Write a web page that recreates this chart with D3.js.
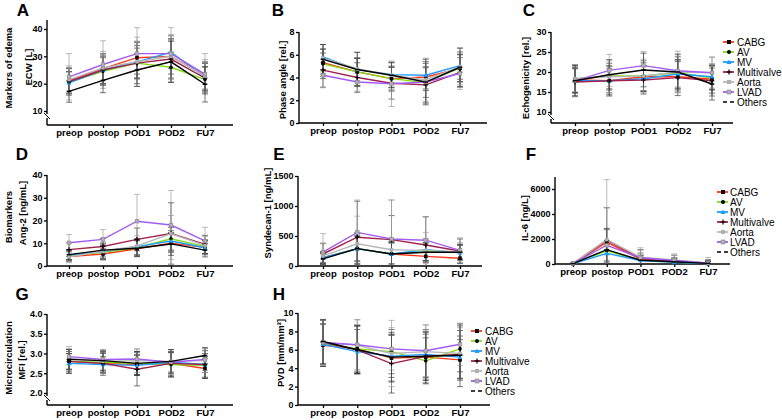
<!DOCTYPE html>
<html><head><meta charset="utf-8">
<script src="https://cdn.jsdelivr.net/npm/d3@7"></script>
<style>
body{margin:0;background:#fff}
svg{display:block;font-family:"Liberation Sans",Arial,Helvetica,sans-serif}
</style>
</head><body>
<svg id="chart" width="782" height="420"></svg>
<script>
// ---------- DATA ----------
const categories = ["preop", "postop", "POD1", "POD2", "FU7"];
const groups = ["CABG", "AV", "MV", "Multivalve", "Aorta", "LVAD", "Others"];
const groupColors = ["#ff3516", "#7fdc12", "#1f9cff", "#a2214c", "#b8b8b8", "#a35bf5", "#000000"];
const groupMarkers = ["square", "circle", "triangle", "plus", "square", "square", "dash"];
const markerFills = ["#000000", "#000000", "#1f9cff", "#000000", "#b0b0b0", "#b0b0b0", "#000000"];

// A: ECW [L]
const ecwMean = [[21,25.5,29.5,30,23],[20.5,24.5,27.5,26,21.5],[20.3,25,28,31.5,22.5],[20.8,25,27.5,29,22],[21.5,25.8,28,30,22.8],[22.5,27,31,31,23.5],[17.2,21.2,25,28,19.8]];
const ecwSD   = [[4.5,5.5,6,6.5,5],[4,5,5.5,5.5,4.5],[4,5,6,6,5],[5,5.5,7.5,7,5.5],[5,6,9,8,6],[8.5,8.7,9.5,9.5,7.5],[4,4.5,6,7.5,6.5]];
const ecwTicks = [10, 20, 30, 40];
// B: Phase angle
const phaseMean = [[5.3,4.5,3.9,4.05,4.8],[5.2,4.5,3.9,3.55,4.85],[5.8,4.7,4.25,4.2,5.05],[4.65,4.0,3.5,3.35,4.45],[5.7,4.75,4.2,3.8,4.95],[4.2,3.6,3.45,3.6,4.35],[5.6,4.7,4.2,3.6,4.9]];
const phaseSD   = [[1.2,1.2,1.1,1.2,1.2],[1.3,1.2,1.0,1.3,1.2],[1.1,1.0,1.1,1.2,1.2],[1.5,1.3,1.4,1.6,1.3],[1.2,1.5,1.1,1.9,1.6],[1.1,0.8,2.0,1.8,1.4],[1.3,1.5,1.1,2.0,1.7]];
const phaseTicks = [0, 2, 4, 6, 8];
// C: Echogenicity
const echoMean = [[18,17.8,18.8,18.8,18.2],[18.3,19,19,19.8,18.5],[17.8,17.8,18.3,19.5,18.8],[17.5,17.8,18,18.6,17.8],[18.3,18.8,19,20,19.8],[17.8,20.4,21.6,20.3,19.8],[17.8,19.3,20.5,20,17]];
const echoSD   = [[3.2,3.5,3.5,3.8,3.5],[3.5,3.2,3.8,4,3],[3,3,3.2,3.5,3.2],[3.5,3.8,3.5,4.5,3.8],[3.2,4,4.2,5.2,3.8],[4,4,3.5,4,4],[3.8,3.8,4.2,4.5,4]];
const echoTicks = [10, 15, 20, 25, 30];
// D: Ang-2
const angMean = [[4.2,5.3,7.6,10,8.2],[4.5,6,8,12,8.5],[4.8,6.3,8.5,11,8],[7.2,8.6,11.7,14.3,9.5],[4,6.5,8.8,14.2,9],[10.2,11.7,19.7,18,11],[5,7,7.8,9.7,7]];
const angSD   = [[2,2.5,3.5,4,3],[2.3,3,3.5,5,3],[2,3,3.5,4.5,3],[3,3.5,5,13.5,4],[2.5,4,4.5,8,4],[3.6,4.3,11.8,15.2,6],[2.2,3,3.5,5,3]];
const angTicks = [0, 10, 20, 30, 40];
// E: Syndecan-1
const syndMean = [[140,290,200,160,130],[130,290,200,240,240],[140,290,200,270,220],[200,480,440,350,250],[170,370,270,260,240],[230,560,450,430,260],[120,290,200,230,230]];
const syndSD   = [[80,200,180,100,90],[90,220,200,150,120],[100,250,200,180,120],[180,600,400,470,200],[200,460,830,300,150],[310,540,650,390,210],[100,270,200,150,130]];
const syndTicks = [0, 500, 1000, 1500];
// F: IL-6
const il6Mean = [[30,1750,380,200,50],[30,1050,300,150,40],[20,850,280,130,40],[40,1900,450,250,60],[50,1950,550,330,80],[40,1500,500,280,60],[30,1150,300,180,50]];
const il6SD   = [[20,1000,500,300,200],[20,800,400,250,150],[20,700,350,200,150],[30,2600,700,450,300],[40,4800,750,480,450],[30,3000,600,400,300],[20,1700,400,250,200]];
const il6Ticks = [0, 2000, 4000, 6000];
// G: MFI
const mfiMean = [[2.8,2.75,2.72,2.75,2.62],[2.8,2.78,2.75,2.72,2.7],[2.75,2.72,2.7,2.78,2.72],[2.8,2.75,2.6,2.75,2.72],[2.88,2.8,2.82,2.8,2.82],[2.92,2.85,2.86,2.78,2.85],[2.85,2.82,2.75,2.8,2.95]];
const mfiSD   = [[0.2,0.25,0.25,0.3,0.25],[0.25,0.25,0.3,0.3,0.3],[0.25,0.2,0.25,0.25,0.2],[0.3,0.3,0.42,0.35,0.35],[0.3,0.3,0.3,0.3,0.3],[0.2,0.25,0.25,0.32,0.28],[0.25,0.25,0.3,0.3,0.2]];
const mfiTicks = [2.0, 2.5, 3.0, 3.5, 4.0];
// H: PVD
const pvdMean = [[6.5,6.1,5.1,5.2,4.9],[6.7,6.1,5.8,4.8,6.1],[6.6,5.8,5.3,5.5,5.2],[6.8,6.0,4.5,5.3,5.5],[6.8,6.5,5.6,5.8,5.6],[6.8,6.55,6.1,5.9,6.6],[6.9,6.0,5.2,5.3,5.4]];
const pvdSD   = [[2.3,2.5,2.5,2.5,2.2],[2.5,2.6,2.4,2.5,2.5],[2.2,2.4,2.3,2.5,2.3],[2.4,2.6,3.2,2.9,2.6],[2.5,2.8,3.6,2.9,2.8],[2.4,2.7,2.3,2.8,2.3],[2.4,2.6,2.7,2.6,3.4]];
const pvdTicks = [0, 2, 4, 6, 8, 10];

// ---------- LAYOUT ----------
const panels = [
  {letter:"A", lx:23, ly:16, mean:ecwMean, sd:ecwSD, ticks:ecwTicks, fmt:d3.format("d"),
   yDom:[10,40], yRng:[111,29], top:20, axisX:47, axisY:125, xEnd:233, cx:[69,205], brk:true,
   titles:[{t:"Markers of edema",x:8,y:68},{t:"ECW [L]",x:28,y:67}]},
  {letter:"B", lx:278, ly:16, mean:phaseMean, sd:phaseSD, ticks:phaseTicks, fmt:d3.format("d"),
   yDom:[0,8], yRng:[123,32], top:32, axisX:299, axisY:123, xEnd:487, cx:[323,460], brk:false,
   titles:[{t:"Phase angle [rel.]",x:282,y:80}]},
  {letter:"C", lx:529, ly:16, mean:echoMean, sd:echoSD, ticks:echoTicks, fmt:d3.format("d"),
   yDom:[10,30], yRng:[112,32], top:32, axisX:551, axisY:123, xEnd:733, cx:[575,712], brk:true,
   titles:[{t:"Echogenicity [rel.]",x:525,y:78}], legend:{mx:729, tx:737, y0:42, dy:10}},
  {letter:"D", lx:22, ly:160, mean:angMean, sd:angSD, ticks:angTicks, fmt:d3.format("d"),
   yDom:[0,40], yRng:[266,175], top:175, axisX:47, axisY:266, xEnd:233, cx:[69,205], brk:false,
   titles:[{t:"Biomarkers",x:8,y:217},{t:"Ang-2 [ng/mL]",x:22,y:213}]},
  {letter:"E", lx:279, ly:160, mean:syndMean, sd:syndSD, ticks:syndTicks, fmt:d3.format("d"),
   yDom:[0,1500], yRng:[266,176], top:176, axisX:298, axisY:266, xEnd:482, cx:[323,460], brk:false,
   titles:[{t:"Syndecan-1 [ng/mL]",x:267,y:213}]},
  {letter:"F", lx:531, ly:160, mean:il6Mean, sd:il6SD, ticks:il6Ticks, fmt:d3.format("d"),
   yDom:[0,6000], yRng:[264,189], top:177, axisX:555, axisY:264, xEnd:730, cx:[573,708], brk:false,
   titles:[{t:"IL-6 [ng/L]",x:524,y:218}], legend:{mx:723, tx:730, y0:192, dy:10}},
  {letter:"G", lx:22, ly:300, mean:mfiMean, sd:mfiSD, ticks:mfiTicks, fmt:d3.format(".1f"),
   yDom:[2,4], yRng:[393,314], top:314, axisX:47, axisY:405, xEnd:233, cx:[69,205], brk:true,
   titles:[{t:"Microcirculation",x:8,y:358},{t:"MFI [rel.]",x:21,y:360}]},
  {letter:"H", lx:279, ly:300, mean:pvdMean, sd:pvdSD, ticks:pvdTicks, fmt:d3.format("d"),
   yDom:[0,10], yRng:[405,313], top:313, axisX:298, axisY:405, xEnd:490, cx:[323,460], brk:false,
   titles:[{t:"PVD [mm/mm²]",x:280,y:353}], legend:{mx:477, tx:485, y0:331, dy:10}}
];

const svg = d3.select("#chart");

function marker(g, type, x, y, fill, stroke, s) {
  s = s || 2;
  if (type === "square") {
    g.append("rect").attr("x", x - s).attr("y", y - s).attr("width", 2*s).attr("height", 2*s)
      .attr("fill", fill).attr("stroke", stroke).attr("stroke-width", 0.6);
  } else if (type === "circle") {
    g.append("circle").attr("cx", x).attr("cy", y).attr("r", s).attr("fill", fill);
  } else if (type === "triangle") {
    g.append("path").attr("d", `M${x},${y-s-0.5}L${x+s+0.5},${y+s}L${x-s-0.5},${y+s}Z`).attr("fill", fill);
  } else if (type === "plus") {
    g.append("path").attr("d", `M${x-s-0.5},${y}H${x+s+0.5}M${x},${y-s-0.5}V${y+s+0.5}`)
      .attr("stroke", fill).attr("stroke-width", 1.2);
  } else if (type === "dash") {
    g.append("path").attr("d", `M${x-s-0.5},${y}H${x+s+0.5}`).attr("stroke", fill).attr("stroke-width", 1.5);
  }
}

panels.forEach(p => {
  const g = svg.append("g");
  const y = d3.scaleLinear().domain(p.yDom).range(p.yRng);
  const x = d3.scalePoint().domain(categories).range(p.cx);

  g.append("text").attr("x", p.lx).attr("y", p.ly).text(p.letter)
    .attr("font-size", 17).attr("font-weight", "bold").attr("text-anchor", "middle");

  p.titles.forEach(t => {
    g.append("text").attr("transform", `translate(${t.x},${t.y}) rotate(-90)`)
      .attr("text-anchor", "middle").attr("dominant-baseline", "central")
      .attr("font-size", 9.5).attr("font-weight", "bold").text(t.t);
  });

  // Y axis
  const ya = g.append("g").attr("transform", `translate(${p.axisX},0)`)
    .call(d3.axisLeft(y).tickValues(p.ticks).tickFormat(p.fmt).tickSize(3).tickPadding(1.5));
  ya.select(".domain").remove();
  ya.selectAll(".tick line").attr("stroke", "#000").attr("stroke-width", 1.3);
  ya.selectAll(".tick text").attr("font-size", 9).attr("font-weight", "bold")
    .attr("font-family", "Liberation Sans, Arial, sans-serif");
  const lineAttrs = sel => sel.attr("stroke", "#000").attr("stroke-width", 1.4).attr("fill", "none");
  if (p.brk) {
    const b0 = p.yRng[0] + 3, b1 = p.yRng[0] + 7;
    g.append("line").attr("x1", p.axisX).attr("x2", p.axisX).attr("y1", p.top).attr("y2", b0).call(lineAttrs);
    g.append("line").attr("x1", p.axisX).attr("x2", p.axisX).attr("y1", b1).attr("y2", p.axisY).call(lineAttrs);
    g.append("path").attr("d", `M${p.axisX-3},${b0-1}L${p.axisX+1},${b0+3}M${p.axisX-1},${b1-3}L${p.axisX+3},${b1+1}`).call(lineAttrs).attr("stroke-width", 1);
  } else {
    g.append("line").attr("x1", p.axisX).attr("x2", p.axisX).attr("y1", p.top).attr("y2", p.axisY).call(lineAttrs);
  }

  // X axis
  const xa = g.append("g").attr("transform", `translate(0,${p.axisY})`)
    .call(d3.axisBottom(x).tickSize(3).tickPadding(1));
  xa.select(".domain").remove();
  xa.selectAll(".tick line").attr("stroke", "#000").attr("stroke-width", 1.3);
  xa.selectAll(".tick text").attr("font-size", 9.5).attr("font-weight", "bold")
    .attr("font-family", "Liberation Sans, Arial, sans-serif");
  g.append("line").attr("x1", p.axisX).attr("x2", p.xEnd).attr("y1", p.axisY).attr("y2", p.axisY).call(lineAttrs);

  const clampY = v => Math.max(p.yDom[0], v);

  // error bars
  groups.forEach((grp, i) => {
    const eg = g.append("g").attr("stroke", i === 4 || i === 5 ? "#9a9a9a" : "#333")
      .attr("stroke-opacity", 0.75).attr("stroke-width", 0.9);
    categories.forEach((c, j) => {
      const m = p.mean[i][j], s = p.sd[i][j];
      const cxp = x(c), y1 = y(m + s), y2 = y(clampY(m - s));
      eg.append("line").attr("x1", cxp).attr("x2", cxp).attr("y1", y1).attr("y2", y2);
      eg.append("line").attr("x1", cxp - 3).attr("x2", cxp + 3).attr("y1", y1).attr("y2", y1);
      if (m - s > p.yDom[0]) eg.append("line").attr("x1", cxp - 3).attr("x2", cxp + 3).attr("y1", y2).attr("y2", y2);
    });
  });

  // lines
  const lineGen = d3.line().x((d, j) => x(categories[j])).y(d => y(d));
  groups.forEach((grp, i) => {
    g.append("path").datum(p.mean[i]).attr("d", lineGen).attr("fill", "none")
      .attr("stroke", groupColors[i]).attr("stroke-width", 1.4);
  });
  // markers
  groups.forEach((grp, i) => {
    const mg = g.append("g");
    p.mean[i].forEach((v, j) => marker(mg, groupMarkers[i], x(categories[j]), y(v), markerFills[i], i === 5 ? "#888" : "none", 1.8));
  });

  // legend
  if (p.legend) {
    const L = p.legend;
    groups.forEach((grp, i) => {
      const yy = L.y0 + i * L.dy;
      if (i === 6) {
        g.append("path").attr("d", `M${L.mx-6},${yy}H${L.mx-2}M${L.mx+1},${yy}H${L.mx+5}`)
          .attr("stroke", "#000").attr("stroke-width", 1.3);
      } else {
        g.append("line").attr("x1", L.mx - 6).attr("x2", L.mx + 5).attr("y1", yy).attr("y2", yy)
          .attr("stroke", groupColors[i]).attr("stroke-width", 1.8);
        marker(g, groupMarkers[i], L.mx, yy, markerFills[i], i === 5 ? "#888" : "none", 2);
      }
      g.append("text").attr("x", L.tx).attr("y", yy).attr("dominant-baseline", "central")
        .attr("font-size", 10).text(grp);
    });
  }
});
</script>
</body></html>
